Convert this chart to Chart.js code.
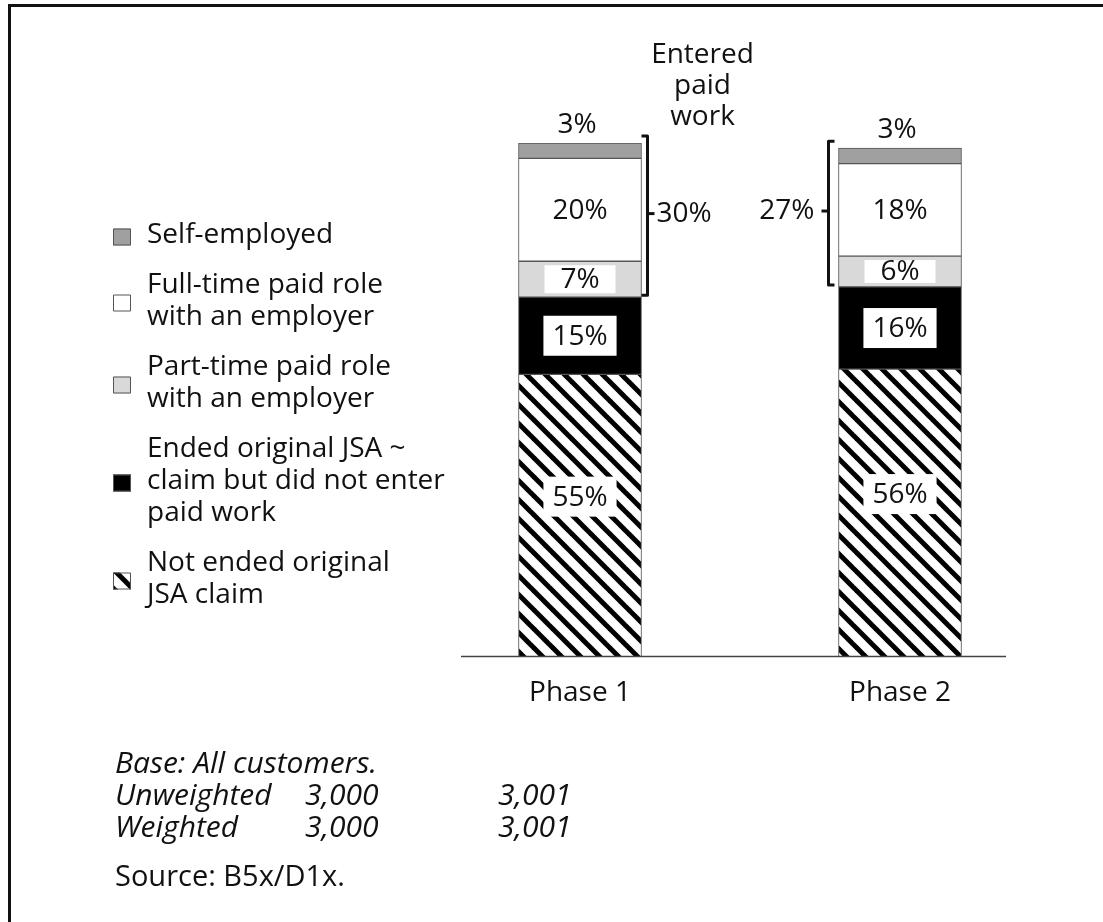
<!DOCTYPE html>
<html>
<head>
<meta charset="utf-8">
<script src="https://cdn.jsdelivr.net/npm/chart.js@4/dist/chart.umd.min.js"></script>
<style>
  body { margin: 0; background: #fff; }
  #wrap { position: relative; width: 1103px; height: 922px; overflow: hidden; font-family: "Open Sans", sans-serif; color: #111; }
  #frame { position: absolute; left: 8px; top: 4px; width: 1200px; height: 1000px; border-left: 3px solid #111; border-top: 3px solid #111; }
  #chart { position: absolute; left: 0; top: 0; }
  .note { position: absolute; font-size: 29px; line-height: 32px; white-space: nowrap; }
  .it { font-style: italic; font-size: 30px; }
</style>
</head>
<body>
<div id="wrap">
  <div id="frame"></div>
  <canvas id="chart" width="1103" height="922"></canvas>
  <div class="note it" style="left:115px; top:746px">Base: All customers.</div>
  <div class="note it" style="left:115px; top:778px">Unweighted</div>
  <div class="note it" style="left:115px; top:810px">Weighted</div>
  <div class="note it" id="u1" style="left:305px; top:778px"></div>
  <div class="note it" id="u2" style="left:498px; top:778px"></div>
  <div class="note it" id="w1" style="left:305px; top:810px"></div>
  <div class="note it" id="w2" style="left:498px; top:810px"></div>
  <div class="note" style="left:115px; top:859px">Source: B5x/D1x.</div>
</div>
<script>
const phases = ["Phase 1", "Phase 2"];
const notEnded = [55, 56];
const endedNoWork = [15, 16];
const partTime = [7, 6];
const fullTime = [20, 18];
const selfEmployed = [3, 3];
const enteredWork = [30, 27];
const unweightedBase = ["3,000", "3,001"];
const weightedBase = ["3,000", "3,001"];

document.getElementById("u1").textContent = unweightedBase[0];
document.getElementById("u2").textContent = unweightedBase[1];
document.getElementById("w1").textContent = weightedBase[0];
document.getElementById("w2").textContent = weightedBase[1];

const FONT = '28px "Open Sans", sans-serif';

const makeHatch = () => {
  const c = document.createElement("canvas");
  c.width = 19; c.height = 19;
  const g = c.getContext("2d");
  g.fillStyle = "#fff";
  g.fillRect(0, 0, 19, 19);
  g.strokeStyle = "#000";
  g.lineWidth = 5;
  for (let k = -1; k <= 1; k++) {
    g.beginPath();
    g.moveTo(k * 19 - 2, -2);
    g.lineTo(k * 19 + 21, 21);
    g.stroke();
  }
  return g.createPattern(c, "repeat");
};
const hatch = makeHatch();

// legend order is top to bottom, datasets are bottom to top
const datasets = [
  { label: "Not ended original JSA claim", lines: ["Not ended original", "JSA claim"], data: notEnded, backgroundColor: hatch, labelShift: -19 },
  { label: "Ended original JSA claim but did not enter paid work", lines: ["Ended original JSA ~", "claim but did not enter", "paid work"], data: endedNoWork, backgroundColor: "#000" },
  { label: "Part-time paid role with an employer", lines: ["Part-time paid role", "with an employer"], data: partTime, backgroundColor: "#d9d9d9" },
  { label: "Full-time paid role with an employer", lines: ["Full-time paid role", "with an employer"], data: fullTime, backgroundColor: "#fff" },
  { label: "Self-employed", lines: ["Self-employed"], data: selfEmployed, backgroundColor: "#a0a0a0", labelAbove: true }
].map(d => Object.assign(d, { borderColor: "#555", borderWidth: 1, borderSkipped: false, barThickness: 123 }));

const extras = {
  id: "extras",
  afterDatasetsDraw(chart) {
    const ctx = chart.ctx;
    const area = chart.chartArea;
    const xs = chart.scales.x;
    ctx.save();
    ctx.font = FONT;
    ctx.fillStyle = "#111";
    ctx.textBaseline = "middle";

    // baseline
    ctx.strokeStyle = "#444";
    ctx.lineWidth = 1.5;
    ctx.beginPath();
    ctx.moveTo(area.left + 41, area.bottom - 0.5);
    ctx.lineTo(area.right - 54, area.bottom - 0.5);
    ctx.stroke();

    // category labels
    ctx.textAlign = "center";
    phases.forEach((p, i) => ctx.fillText(p, xs.getPixelForValue(i), area.bottom + 36));

    // segment labels
    chart.data.datasets.forEach((ds, d) => {
      const meta = chart.getDatasetMeta(d);
      meta.data.forEach((bar, i) => {
        const txt = ds.data[i] + "%";
        if (ds.labelAbove) {
          ctx.fillStyle = "#111";
          ctx.fillText(txt, bar.x - 3, bar.y - 18);
          return;
        }
        const cy = (bar.y + bar.base) / 2 + (ds.labelShift || 0);
        const w = Math.max(ctx.measureText(txt).width + 18, 71);
        const h = Math.min(40, bar.base - bar.y - 8);
        ctx.fillStyle = "#fff";
        ctx.fillRect(bar.x - w / 2, cy - h / 2, w, h);
        ctx.fillStyle = "#111";
        ctx.fillText(txt, bar.x, cy + 1);
      });
    });

    // "entered paid work" brackets
    const topMeta = chart.getDatasetMeta(4);
    const partMeta = chart.getDatasetMeta(2);
    ctx.strokeStyle = "#111";
    ctx.lineWidth = 3;
    ctx.lineJoin = "round";
    enteredWork.forEach((v, i) => {
      const bar = topMeta.data[i];
      const top = bar.y - 7;
      const bottom = partMeta.data[i].base - 2;
      const mid = (top + bottom) / 2 - 2;
      const side = i === 0 ? 1 : -1;
      const bx = i === 0 ? bar.x + bar.width / 2 + 6 : bar.x - bar.width / 2 - 10;
      ctx.beginPath();
      ctx.moveTo(bx - side * 6, top);
      ctx.lineTo(bx, top);
      ctx.lineTo(bx, bottom);
      ctx.lineTo(bx - side * 6, bottom);
      ctx.stroke();
      ctx.beginPath();
      ctx.moveTo(bx, mid);
      ctx.lineTo(bx + side * 7, mid);
      ctx.stroke();
      ctx.fillStyle = "#111";
      ctx.textAlign = i === 0 ? "left" : "right";
      ctx.fillText(v + "%", bx + side * (i === 0 ? 9 : 14), mid);
      if (i === 0) {
        ctx.textAlign = "center";
        ["Entered", "paid", "work"].forEach((t, k) => ctx.fillText(t, bx + 55, top - 81 + k * 31));
      }
    });

    // legend
    ctx.textAlign = "left";
    let y = 235;
    chart.data.datasets.slice().reverse().forEach(ds => {
      const n = ds.lines.length;
      const cy = y + (n - 1) * 16 + 2;
      ctx.fillStyle = ds.backgroundColor;
      ctx.fillRect(113, cy - 8.5, 18, 17);
      ctx.strokeStyle = "#555";
      ctx.lineWidth = 1;
      ctx.strokeRect(113.5, cy - 8, 17, 16);
      ctx.fillStyle = "#111";
      ds.lines.forEach((t, k) => ctx.fillText(t, 147, y + k * 32));
      y += (n - 1) * 32 + 50;
    });
    ctx.restore();
  }
};

const ctx = document.getElementById("chart").getContext("2d");
const chart = new Chart(ctx, {
  type: "bar",
  data: { labels: phases, datasets: datasets },
  options: {
    responsive: false,
    animation: false,
    layout: { padding: { left: 420, right: 43, top: 143, bottom: 265 } },
    scales: {
      x: { stacked: true, display: false },
      y: { stacked: true, display: false, min: 0, max: 100 }
    },
    plugins: { legend: { display: false }, tooltip: { enabled: false } }
  },
  plugins: [extras]
});
</script>
</body>
</html>
